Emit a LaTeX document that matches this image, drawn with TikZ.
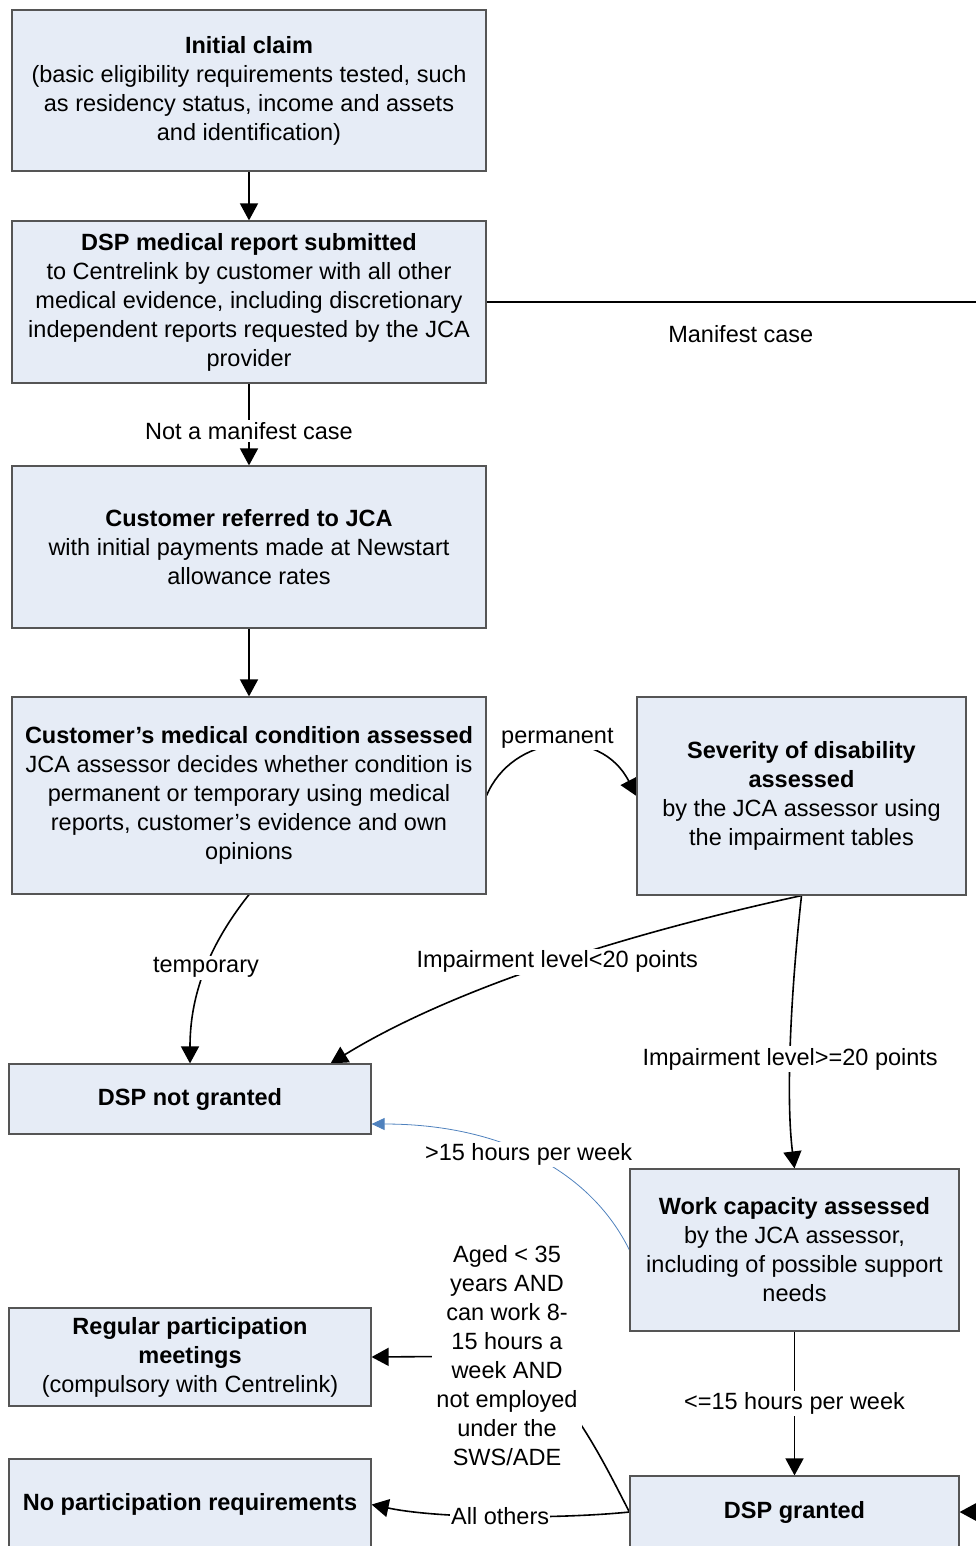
\documentclass[tikz,border=0pt]{standalone}
\usepackage{fontspec}
\setmainfont{Liberation Sans}
\usetikzlibrary{arrows.meta,calc}
\definecolor{boxfill}{RGB}{230,236,246}
\definecolor{boxline}{RGB}{85,85,85}
\definecolor{bluearr}{RGB}{79,129,189}
\pgfdeclarelayer{bg}
\pgfsetlayers{bg,main}
\begin{document}
\begin{tikzpicture}[x=1pt,y=-1pt,
  every node/.style={font=\fontsize{23.5}{29}\selectfont},
  box/.style={draw=boxline, fill=boxfill, line width=1.2pt, inner sep=0pt, align=center},
  arr/.style={draw=black, line width=1.6pt, -{Triangle[length=17pt,width=18pt]}},
  bluearrow/.style={draw=bluearr, line width=0.8pt, -{Triangle[length=13pt,width=12pt]}},
  lab/.style={fill=white, inner sep=2pt, align=center}]
\useasboundingbox (0,0) rectangle (976,1546);

\node[box, minimum width=474pt, minimum height=161pt] (n1) at (249,90.5)
  {\textbf{Initial claim}\\(basic eligibility requirements tested, such\\as residency status, income and assets\\and identification)};
\node[box, minimum width=474pt, minimum height=162pt] (n2) at (249,302)
  {\textbf{DSP medical report submitted}\\to Centrelink by customer with all other\\medical evidence, including discretionary\\independent reports requested by the JCA\\provider};
\node[box, minimum width=474pt, minimum height=162pt] (n3) at (249,547)
  {\textbf{Customer referred to JCA}\\with initial payments made at Newstart\\allowance rates};
\node[box, minimum width=474pt, minimum height=197pt] (n4) at (249,795.5)
  {\textbf{Customer’s medical condition assessed}\\JCA assessor decides whether condition is\\permanent or temporary using medical\\reports, customer’s evidence and own\\opinions};
\node[box, minimum width=329pt, minimum height=198pt] (n5) at (801.5,796)
  {\textbf{Severity of disability}\\\textbf{assessed}\\by the JCA assessor using\\the impairment tables};
\node[box, minimum width=362pt, minimum height=70pt] (n6) at (190,1099)
  {\textbf{DSP not granted}};
\node[box, minimum width=329pt, minimum height=162pt] (n7) at (794.5,1250)
  {\textbf{Work capacity assessed}\\by the JCA assessor,\\including of possible support\\needs};
\node[box, minimum width=362pt, minimum height=98pt] (n8) at (190,1357)
  {\textbf{Regular participation}\\\textbf{meetings}\\(compulsory with Centrelink)};
\node[box, minimum width=362pt, minimum height=91pt] (n9) at (190,1504.5)
  {\textbf{No participation requirements}};
\node[box, minimum width=329pt, minimum height=72pt] (n10) at (794.5,1512)
  {\textbf{DSP granted}};

\node[lab, inner sep=4pt] (aged) at (507,1356)
  {Aged < 35\\years AND\\can work 8-\\15 hours a\\week AND\\not employed\\under the\\SWS/ADE};

\coordinate (mc) at (995,0);

\begin{pgfonlayer}{bg}
\draw[arr] (n1.south) -- (n2.north);
\draw[arr] (n2.south) -- node[lab,pos=0.58]{Not a manifest case} (n3.north);
\draw[arr] (n3.south) -- (n4.north);
\draw[arr] (n2.east) -- node[midway,yshift=-32pt]{Manifest case} (n2.east -| mc) |- (n10.east);
\draw[arr] (n4.east) .. controls (512,735) and (600,725) .. node[lab,pos=0.5,yshift=8pt]{permanent} (n5.west);
\draw[arr] (n4.south) .. controls (205,950) and (190,1000) .. node[lab,pos=0.45]{temporary} (n6.north);
\draw[arr] (n5.south) .. controls (620,935) and (450,990) .. node[lab,pos=0.47]{Impairment level<20 points} ([xshift=-41pt]n6.north east);
\draw[arr] (n5.south) .. controls (790,1000) and (786,1100) .. node[lab,pos=0.55]{Impairment level>=20 points} (n7.north);
\draw[bluearrow] (n7.west) .. controls (590,1170) and (500,1124) .. node[lab,pos=0.52]{>15 hours per week} ([yshift=-25pt]n6.east);
\draw[arr] (n7.south) -- node[lab,midway]{<=15 hours per week} (n10.north);
\draw[arr] (n10.west) .. controls (605,1465) and (560,1370) .. (aged.center) -- (n8.east);
\draw[arr] (n10.west) .. controls (560,1519) and (440,1519) .. node[lab,inner sep=1pt,midway]{All others} (n9.east);
\end{pgfonlayer}
\end{tikzpicture}
\end{document}
